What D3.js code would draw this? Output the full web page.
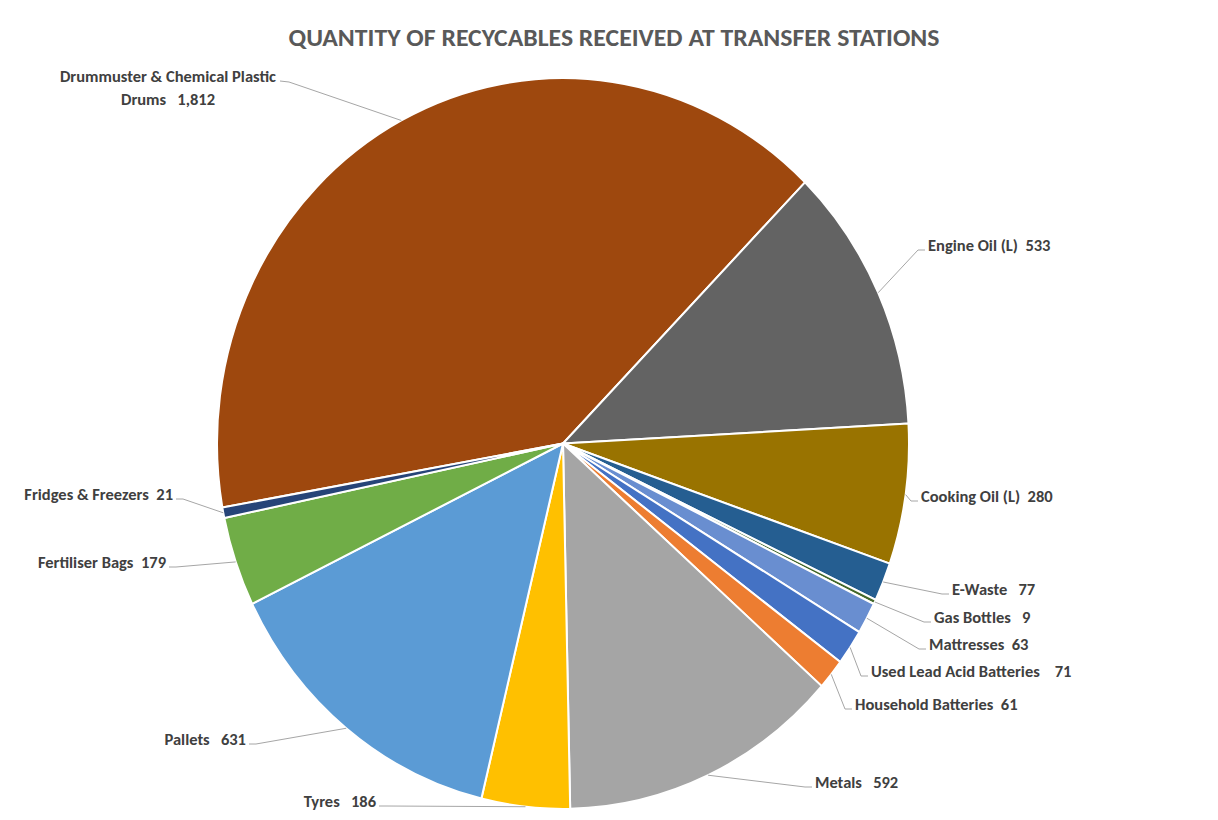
<!DOCTYPE html>
<html>
<head>
<meta charset="utf-8">
<script src="https://cdn.jsdelivr.net/npm/d3@7"></script>
<style>
  html, body { margin: 0; padding: 0; background: #fff; }
  svg { display: block; }
  text { font-family: Carlito, Lato, "Open Sans", sans-serif; font-weight: bold; white-space: pre; }
</style>
</head>
<body>
<svg id="chart" width="1218" height="820"></svg>
<script>
// ---- data ----
const categories = [
  "Drummuster & Chemical Plastic Drums", "Engine Oil (L)", "Cooking Oil (L)", "E-Waste",
  "Gas Bottles", "Mattresses", "Used Lead Acid Batteries", "Household Batteries",
  "Metals", "Tyres", "Pallets", "Fertiliser Bags", "Fridges & Freezers"
];
const values = [1812, 533, 280, 77, 9, 63, 71, 61, 592, 186, 631, 179, 21];
const colors = [
  "#9E480E", "#636363", "#997300", "#255E91", "#43682B", "#698ED0", "#4472C4",
  "#ED7D31", "#A5A5A5", "#FFC000", "#5B9BD5", "#70AD47", "#264478"
];
// label text lines (separator spacing as in the original)
const labelLines = [
  ["Drummuster & Chemical Plastic", "Drums   1,812"],
  ["Engine Oil (L)  533"], ["Cooking Oil (L)  280"], ["E-Waste   77"],
  ["Gas Bottles   9"], ["Mattresses  63"], ["Used Lead Acid Batteries    71"],
  ["Household Batteries  61"], ["Metals   592"], ["Tyres   186"],
  ["Pallets   631"], ["Fertiliser Bags  179"], ["Fridges & Freezers  21"]
];
const title = "QUANTITY OF RECYCABLES RECEIVED AT TRANSFER STATIONS";

// ---- layout (label placement: x, baseline, anchor) ----
const labelLayout = [
  {x: 168, y: 82, anchor: "middle", half: 109},
  {x: 928, y: 251, anchor: "start"},
  {x: 921, y: 502, anchor: "start"},
  {x: 952, y: 595, anchor: "start"},
  {x: 934, y: 623, anchor: "start"},
  {x: 929, y: 650, anchor: "start"},
  {x: 871, y: 677, anchor: "start"},
  {x: 855, y: 710, anchor: "start"},
  {x: 815, y: 788, anchor: "start"},
  {x: 376, y: 807, anchor: "end"},
  {x: 246, y: 745, anchor: "end"},
  {x: 166, y: 568, anchor: "end"},
  {x: 173, y: 500, anchor: "end"}
];

const svg = d3.select("#chart");
const cx = 563, cy = 443.5, r = 346, sy = 1.056;
const startDeg = -100.1;

const pie = d3.pie().sort(null).value(d => d)
  .startAngle(startDeg * Math.PI / 180)
  .endAngle((startDeg + 360) * Math.PI / 180);
const arcs = pie(values);
const arc = d3.arc().innerRadius(0).outerRadius(r);

svg.append("text")
  .attr("x", 614).attr("y", 46)
  .attr("text-anchor", "middle")
  .attr("font-size", 24)
  .attr("fill", "#595959")
  .attr("textLength", 651).attr("lengthAdjust", "spacingAndGlyphs")
  .text(title);

const g = svg.append("g").attr("transform", `translate(${cx},${cy}) scale(1,${sy})`);
g.selectAll("path.slice").data(arcs).join("path")
  .attr("class", "slice")
  .attr("d", arc)
  .attr("fill", (d, i) => colors[i])
  .attr("stroke", "#fff")
  .attr("stroke-width", 2)
  .attr("vector-effect", "non-scaling-stroke")
  .attr("stroke-linejoin", "round");

// leader lines
function piePoint(d) {
  const a = (d.startAngle + d.endAngle) / 2;
  return [cx + r * Math.sin(a), cy - r * sy * Math.cos(a)];
}
const lineG = svg.append("g");
arcs.forEach((d, i) => {
  const L = labelLayout[i];
  const p = piePoint(d);
  let end, elbow;
  if (L.anchor === "middle") {
    end = [L.x + L.half + 3, L.y - 1];
    elbow = [end[0] + 9, L.y];
  } else if (L.anchor === "start") {
    end = [L.x - 3, L.y - 1];
    elbow = [L.x - 10, L.y - 1];
  } else {
    end = [L.x + 3, L.y - 1];
    elbow = [L.x + 10, L.y - 1];
  }
  lineG.append("path")
    .attr("d", d3.line()([p, elbow, end]))
    .attr("fill", "none")
    .attr("stroke", "#a6a6a6")
    .attr("stroke-width", 1);
});

// labels
const labG = svg.append("g");
arcs.forEach((d, i) => {
  const L = labelLayout[i];
  const t = labG.append("text")
    .attr("x", L.x).attr("y", L.y)
    .attr("text-anchor", L.anchor)
    .attr("font-size", 16.5)
    .attr("fill", "#404040");
  labelLines[i].forEach((s, j) => {
    t.append("tspan").attr("x", L.x).attr("dy", j === 0 ? 0 : 23).text(s);
  });
});
</script>
</body>
</html>
